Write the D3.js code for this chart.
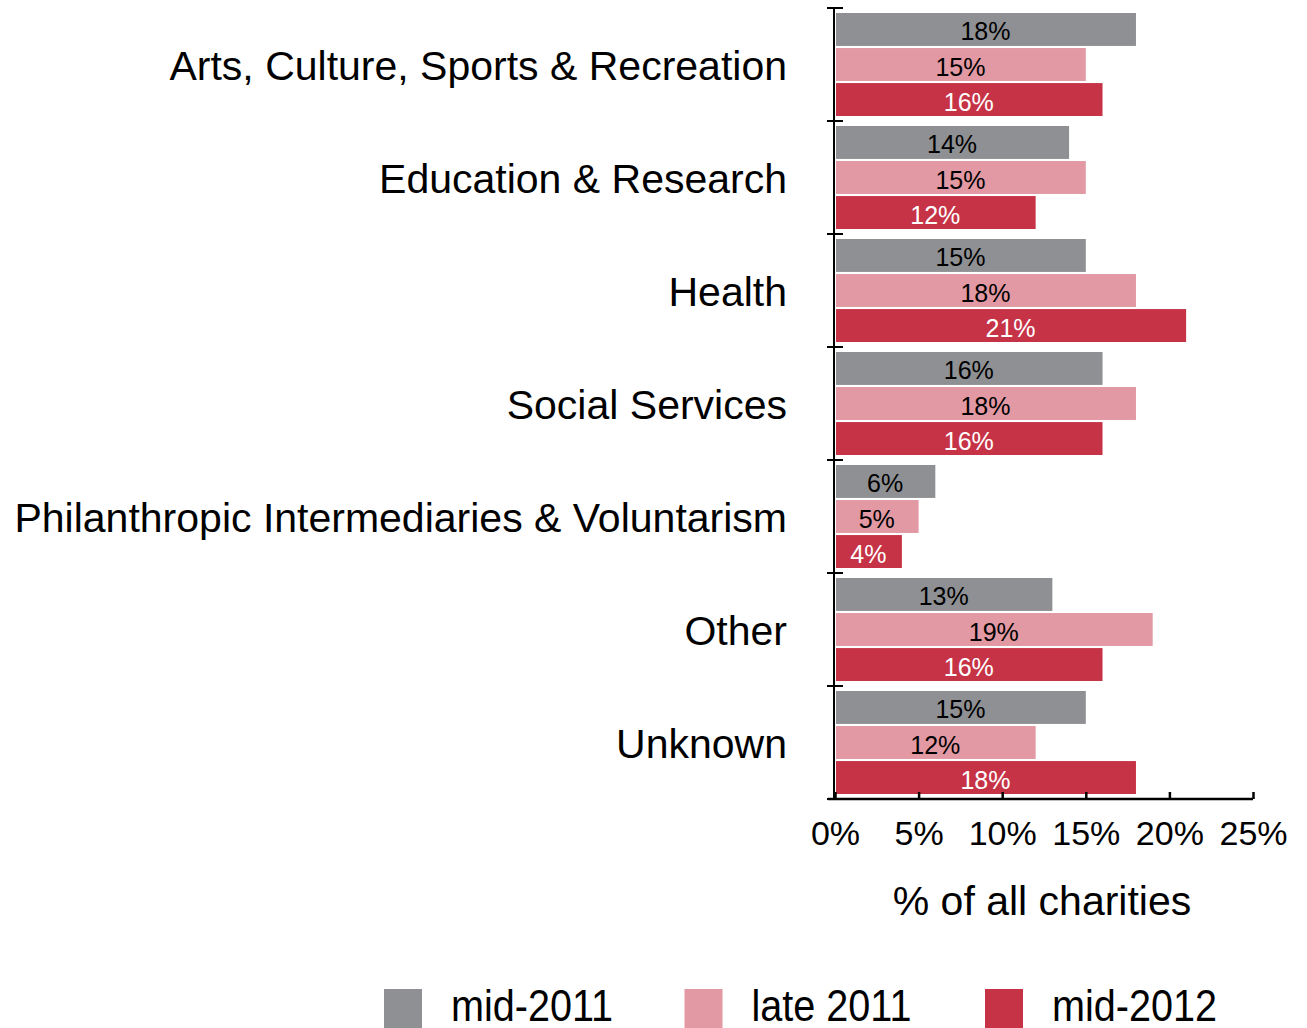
<!DOCTYPE html>
<html>
<head>
<meta charset="utf-8">
<script src="https://cdn.jsdelivr.net/npm/d3@7"></script>
<style>
  body { margin: 0; background: #fff; }
  svg { font-family: "Liberation Sans", Arial, Helvetica, sans-serif; }
</style>
</head>
<body>
<svg id="chart" width="1307" height="1028"></svg>
<script>
// data
var categories = ["Arts, Culture, Sports & Recreation", "Education & Research", "Health",
    "Social Services", "Philanthropic Intermediaries & Voluntarism", "Other", "Unknown"];
var series = ["mid-2011", "late 2011", "mid-2012"];
var mid2011 = [18, 14, 15, 16, 6, 13, 15];
var late2011 = [15, 15, 18, 18, 5, 19, 12];
var mid2012 = [16, 12, 21, 16, 4, 16, 18];
var xTicks = [0, 5, 10, 15, 20, 25];

var colors = ["#8e9093", "#e299a3", "#c63346"];
var labelColors = ["#000", "#000", "#fff"];

var svg = d3.select("#chart");
var plotLeft = 835, plotRight = 1253, plotTop = 8, plotBottom = 799;

var x = d3.scaleLinear().domain([0, 25]).range([plotLeft, plotRight]);
var y = d3.scaleBand().domain(categories).range([plotTop, plotBottom]);
var inner = d3.scaleBand().domain(series).range([5, y.bandwidth() - 5]).paddingInner(0.06);

var values = [mid2011, late2011, mid2012];
var rows = [];
categories.forEach(function (c, i) {
    series.forEach(function (s, j) {
        rows.push({cat: c, ser: s, j: j, v: values[j][i]});
    });
});

// bars
svg.selectAll("rect.bar").data(rows).enter().append("rect")
    .attr("class", "bar")
    .attr("x", x(0) + 1)
    .attr("y", d => y(d.cat) + inner(d.ser))
    .attr("width", d => x(d.v) - x(0) - 1)
    .attr("height", inner.bandwidth())
    .attr("fill", d => colors[d.j]);

svg.selectAll("text.val").data(rows).enter().append("text")
    .attr("class", "val")
    .attr("x", d => (x(0) + x(d.v)) / 2)
    .attr("y", d => y(d.cat) + inner(d.ser) + inner.bandwidth() / 2 + 11)
    .attr("text-anchor", "middle")
    .attr("font-size", 25)
    .attr("fill", d => labelColors[d.j])
    .text(d => d.v + "%");

// y axis: line with cross ticks at band edges
var edges = categories.map(c => y(c)).concat([plotBottom]);
svg.append("line").attr("x1", plotLeft - 1).attr("x2", plotLeft - 1).attr("y1", plotTop).attr("y2", plotBottom)
    .attr("stroke", "#000").attr("stroke-width", 2);
svg.selectAll("line.ytick").data(edges).enter().append("line")
    .attr("class", "ytick")
    .attr("x1", plotLeft - 8).attr("x2", plotLeft + 8)
    .attr("y1", d => d).attr("y2", d => d)
    .attr("stroke", "#000").attr("stroke-width", 2);

svg.selectAll("text.cat").data(categories).enter().append("text")
    .attr("class", "cat")
    .attr("x", 787)
    .attr("y", d => y(d) + y.bandwidth() / 2 + 15)
    .attr("text-anchor", "end")
    .attr("font-size", 41)
    .text(d => d);

// x axis
var xAxis = d3.axisBottom(x).tickValues(xTicks).tickFormat(d => d + "%").tickSizeInner(-7).tickSizeOuter(0).tickPadding(22);
var gx = svg.append("g").attr("transform", "translate(0," + plotBottom + ")").call(xAxis);
gx.select(".domain").attr("d", "M" + (plotLeft - 7) + ",0H" + plotRight).attr("stroke-width", 2.5);
gx.selectAll(".tick line").attr("stroke-width", 2.5);
gx.selectAll(".tick text").attr("font-size", 34).attr("fill", "#000")
    .attr("font-family", "Liberation Sans, Arial, sans-serif");

svg.append("text")
    .attr("x", 1042)
    .attr("y", 915)
    .attr("text-anchor", "middle")
    .attr("font-size", 41)
    .text("% of all charities");

// legend
var lg = svg.selectAll("g.leg").data(series).enter().append("g")
    .attr("class", "leg")
    .attr("transform", (d, i) => "translate(" + (384 + i * 300.5) + ",989)");
lg.append("rect").attr("width", 38).attr("height", 39).attr("fill", (d, i) => colors[i]);
lg.append("text").attr("transform", "translate(67,32) scale(0.9,1)").attr("font-size", 44)
    .text(d => d);
</script>
</body>
</html>
